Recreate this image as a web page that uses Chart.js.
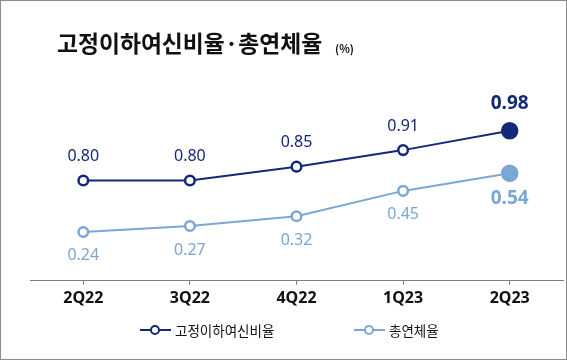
<!DOCTYPE html>
<html><head><meta charset="utf-8">
<script src="https://cdn.jsdelivr.net/npm/chart.js@4/dist/chart.umd.min.js"></script>
<style>
html,body{margin:0;padding:0;background:#fff;}
#wrap{position:relative;width:567px;height:360px;box-sizing:border-box;border:1px solid #8c8c8c;overflow:hidden;font-family:"Noto Sans CJK KR","Noto Sans",sans-serif;}
#c{position:absolute;left:-1px;top:-1px;}
#title{position:absolute;left:56px;top:31px;font-size:22.8px;line-height:22px;font-weight:bold;color:#111;white-space:nowrap;}
#unit{position:absolute;left:334px;top:41px;font-size:11px;line-height:12px;font-weight:bold;color:#111;}
.leg{position:absolute;top:320px;font-size:13.5px;line-height:18px;color:#111;display:flex;align-items:center;white-space:nowrap;}
.leg .ln{position:relative;width:31px;height:2px;margin-right:4px;}
.leg .dot{position:absolute;left:10px;top:-4px;width:6px;height:6px;border-radius:50%;background:#fff;border:2px solid;}
</style></head>
<body><div id="wrap">
<canvas id="c" width="567" height="360"></canvas>
<div id="title">고정이하여신비율·총연체율</div>
<div id="unit">(%)</div>
<div class="leg" style="left:139px"><span class="ln" style="background:#14287a"><span class="dot" style="border-color:#14287a"></span></span>고정이하여신비율</div>
<div class="leg" style="left:353px"><span class="ln" style="background:#7ba6d6"><span class="dot" style="border-color:#7ba6d6"></span></span>총연체율</div>
</div>
<script>
const categories = ['2Q22','3Q22','4Q22','1Q23','2Q23'];
const npl = [0.80,0.80,0.85,0.91,0.98];
const delinquency = [0.24,0.27,0.32,0.45,0.54];
const seriesNames = ['고정이하여신비율','총연체율'];

const DARK='#14287a', LIGHT='#7ba6d6';
const labelPlugin={
  id:'vals',
  afterDatasetsDraw(chart){
    const ctx=chart.ctx;
    chart.data.datasets.forEach((ds,i)=>{
      const meta=chart.getDatasetMeta(i);
      meta.data.forEach((pt,j)=>{
        const last=j===ds.data.length-1;
        ctx.save();
        ctx.fillStyle=i===0?DARK:LIGHT;
        ctx.font=(last?'bold 19px':'16px')+' "Noto Sans","Noto Sans CJK KR",sans-serif';
        ctx.textAlign='center';ctx.textBaseline='middle';
        const off=i===0?(last?-27:-24):(last?25:24);
        ctx.fillText(ds.data[j].toFixed(2),pt.x,pt.y+off);
        ctx.restore();
      });
    });
  }
};
new Chart(document.getElementById('c'),{
  type:'line',
  data:{labels:categories,datasets:[
    {label:seriesNames[0],data:npl,yAxisID:'y',borderColor:DARK,borderWidth:2,
     pointBackgroundColor:npl.map((v,i)=>i===npl.length-1?DARK:'#fff'),pointBorderColor:DARK,
     pointBorderWidth:2.5,pointRadius:npl.map((v,i)=>i===npl.length-1?7.5:4.8)},
    {label:seriesNames[1],data:delinquency,yAxisID:'y2',borderColor:LIGHT,borderWidth:2,
     pointBackgroundColor:delinquency.map((v,i)=>i===delinquency.length-1?LIGHT:'#fff'),pointBorderColor:LIGHT,
     pointBorderWidth:2.5,pointRadius:delinquency.map((v,i)=>i===delinquency.length-1?7.5:4.8)}
  ]},
  options:{
    responsive:false,animation:false,
    layout:{autoPadding:false,padding:{left:30,right:4,top:100,bottom:48}},
    plugins:{legend:{display:false},tooltip:{enabled:false}},
    scales:{
      x:{offset:true,grid:{display:true,drawOnChartArea:false,tickLength:4,color:'#7f7f7f'},
         border:{color:'#7f7f7f',width:1},
         ticks:{color:'#111',padding:4,font:{size:16,weight:'bold',family:'"Noto Sans",sans-serif'}}},
      y:{display:false,min:0.4364,max:1.0916},
      y2:{display:false,min:-0.01,max:0.915}
    }
  },
  plugins:[labelPlugin]
});
</script>
</body></html>
